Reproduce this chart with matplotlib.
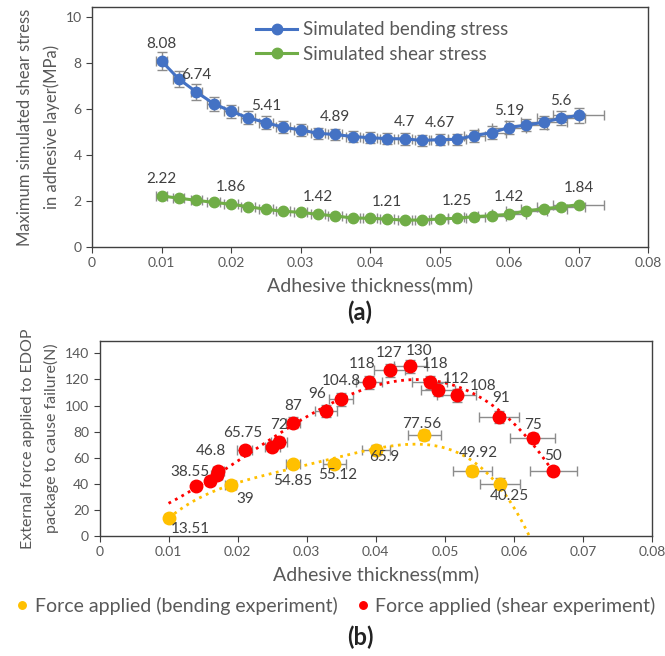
import matplotlib
matplotlib.use("Agg")
import matplotlib.pyplot as plt
import numpy as np

plt.rcParams['font.family'] = ['Lato', 'DejaVu Sans']

# ---------------- data (a) ----------------
thick_a = [0.01, 0.0125, 0.015, 0.0175, 0.02, 0.0225, 0.025, 0.0275, 0.03, 0.0325,
           0.035, 0.0375, 0.04, 0.0425, 0.045, 0.0475, 0.05, 0.0525, 0.055, 0.0575,
           0.06, 0.0625, 0.065, 0.0675, 0.07]
bend_stress = [8.08, 7.30, 6.74, 6.23, 5.90, 5.61, 5.41, 5.20, 5.09, 4.94,
               4.89, 4.80, 4.75, 4.71, 4.70, 4.63, 4.67, 4.68, 4.84, 4.97,
               5.19, 5.30, 5.42, 5.60, 5.72]
shear_stress = [2.22, 2.12, 2.03, 1.94, 1.86, 1.75, 1.64, 1.55, 1.51, 1.42,
                1.35, 1.26, 1.25, 1.21, 1.17, 1.17, 1.22, 1.25, 1.32, 1.36,
                1.42, 1.57, 1.66, 1.74, 1.84]
bend_yerr = [0.40, 0.36, 0.33, 0.31, 0.29, 0.28, 0.27, 0.26, 0.26, 0.25,
             0.25, 0.25, 0.25, 0.25, 0.25, 0.25, 0.25, 0.25, 0.26, 0.27,
             0.28, 0.28, 0.29, 0.30, 0.32]
shear_yerr = [0.05] * 25
xerr_a = [0.0008, 0.0008, 0.0008, 0.0009, 0.001, 0.001, 0.001, 0.001, 0.001, 0.001,
          0.001, 0.001, 0.001, 0.001, 0.001, 0.001, 0.0012, 0.0013, 0.0015, 0.002,
          0.0025, 0.003, 0.0033, 0.0035, 0.0037]
bend_label_idx = [0, 2, 6, 10, 14, 16, 20, 23]
shear_label_idx = [0, 4, 9, 13, 17, 20, 24]

# ---------------- data (b) ----------------
thick_bend_exp = [0.01, 0.019, 0.028, 0.034, 0.040, 0.047, 0.054, 0.058]
force_bend = [13.51, 39, 54.85, 55.12, 65.9, 77.56, 49.92, 40.25]
bend_exp_xerr = [0.0005, 0.0008, 0.001, 0.0017, 0.002, 0.0024, 0.0028, 0.0029]
bend_exp_yerr = [2, 2.5, 3, 3, 3.5, 4, 4, 4]
bend_exp_lab = ['13.51', '39', '54.85', '55.12', '65.9', '77.56', '49.92', '40.25']

thick_shear_exp = [0.014, 0.016, 0.017, 0.0172, 0.021, 0.025, 0.026, 0.028, 0.0328,
                   0.035, 0.039, 0.042, 0.045, 0.0478, 0.049, 0.0517, 0.0578, 0.0627, 0.0657]
force_shear = [38.55, 42, 46.8, 50, 65.75, 68.5, 72, 87, 96,
               104.8, 118, 127, 130, 118, 112, 108, 91, 75, 50]
shear_exp_xerr = [0.0005, 0.0006, 0.0008, 0.0008, 0.0011, 0.0011, 0.0011, 0.001, 0.0016,
                  0.0017, 0.0019, 0.0022, 0.0024, 0.0025, 0.0025, 0.0028, 0.0029, 0.0032, 0.0034]
shear_exp_yerr = [2.5, 3, 3, 3, 3.5, 3.5, 4, 4, 4.5, 5, 5, 5, 5, 5, 5, 5, 4.5, 4, 3]
shear_exp_lab = ['38.55', '', '46.8', '', '65.75', '', '72', '87', '96',
                 '104.8', '118', '127', '130', '118', '112', '108', '91', '75', '50']

# label offsets (pixels, dx right, dy up) -- style only
bend_lab_off = [(22, -11), (15, -14), (0, -17), (3, -11), (8, -7), (-2, 11), (6, 18), (9, -13)]
shear_lab_off = [(-6, 14), (0, 0), (-6, 24), (0, 0), (-2, 17), (0, 0), (0, 17), (0, 17), (-9, 17),
                 (0, 18), (-7, 18), (0, 17), (9, 15), (5, 18), (18, 11), (27, 9), (2, 19), (0, 13), (0, 15)]

BLUE = '#4472C4'
GREEN = '#70AD47'
RED = '#FF0000'
YEL = '#FFC000'
ERR = '#8c8c8c'
TXT = '#595959'
LAB = '#404040'

fig = plt.figure(figsize=(6.65, 6.56), dpi=100)
px2pt = 72 / 100

def style_axes(ax):
    for s in ax.spines.values():
        s.set_color('#404040')
        s.set_linewidth(1.0)
    ax.tick_params(axis='both', colors='#404040', labelcolor=TXT, labelsize=10,
                   direction='out', length=4, width=0.8)
    ax.set_xlim(0, 0.08)
    ax.set_xticks(np.arange(0, 0.081, 0.01))
    ax.set_xticklabels(['0', '0.01', '0.02', '0.03', '0.04', '0.05', '0.06', '0.07', '0.08'])

# ---------------- (a) ----------------
ax1 = fig.add_axes([92 / 665, 1 - 247 / 656, (648 - 92) / 665, (247 - 7) / 656])
style_axes(ax1)
ax1.set_ylim(0, 10.43)
ax1.set_yticks([0, 2, 4, 6, 8, 10])
ax1.errorbar(thick_a, bend_stress, yerr=bend_yerr, xerr=xerr_a, fmt='none',
             ecolor=ERR, elinewidth=1.0, capsize=3.5, capthick=1.0, zorder=2)
ax1.errorbar(thick_a, shear_stress, yerr=shear_yerr, xerr=xerr_a, fmt='none',
             ecolor=ERR, elinewidth=1.0, capsize=3.5, capthick=1.0, zorder=2)
ax1.plot(thick_a, bend_stress, '-o', color=BLUE, lw=2.2, ms=7.5, zorder=3,
         label='Simulated bending stress')
ax1.plot(thick_a, shear_stress, '-o', color=GREEN, lw=2.2, ms=7.5, zorder=3,
         label='Simulated shear stress')
for i in bend_label_idx:
    ax1.annotate(f'{bend_stress[i]:g}', (thick_a[i], bend_stress[i]), xytext=(0, 17 * px2pt),
                 textcoords='offset points', ha='center', va='center', fontsize=11, color=LAB)
for i in shear_label_idx:
    ax1.annotate(f'{shear_stress[i]:g}', (thick_a[i], shear_stress[i]), xytext=(0, 17 * px2pt),
                 textcoords='offset points', ha='center', va='center', fontsize=11, color=LAB)
ax1.legend(loc='upper left', bbox_to_anchor=(0.265, 1.01), frameon=False, fontsize=13.5,
           labelcolor=TXT, handlelength=2.2, handletextpad=0.3, labelspacing=0.4)
ax1.set_ylabel('Maximum simulated shear stress\nin adhesive layer(MPa)', fontsize=12,
               color=TXT, labelpad=4, linespacing=1.75)
ax1.set_xlabel('Adhesive thickness(mm)', fontsize=14, color=TXT, labelpad=5)
fig.text(360 / 665, 1 - 312 / 656, '(a)', ha='center', va='center', fontsize=17,
         fontweight='bold', color='#222222')

# ---------------- (b) ----------------
ax2 = fig.add_axes([99.5 / 665, 1 - 536 / 656, (652 - 99.5) / 665, (536 - 341) / 656])
style_axes(ax2)
ax2.set_ylim(0, 149.5)
ax2.set_yticks(np.arange(0, 141, 20))
ax2.errorbar(thick_bend_exp, force_bend, yerr=bend_exp_yerr, xerr=bend_exp_xerr, fmt='none',
             ecolor=ERR, elinewidth=1.0, capsize=3.5, capthick=1.0, zorder=2)
ax2.errorbar(thick_shear_exp, force_shear, yerr=shear_exp_yerr, xerr=shear_exp_xerr, fmt='none',
             ecolor=ERR, elinewidth=1.0, capsize=3.5, capthick=1.0, zorder=2)
# polynomial trendlines
cb = np.polyfit(thick_bend_exp, force_bend, 4)
xb = np.linspace(min(thick_bend_exp), 0.066, 200)
ax2.plot(xb, np.polyval(cb, xb), ':', color=YEL, lw=2.0, zorder=2.5)
cs = np.polyfit(thick_shear_exp, force_shear, 3)
xs = np.linspace(0.01, max(thick_shear_exp), 200)
ax2.plot(xs, np.polyval(cs, xs), ':', color=RED, lw=2.0, zorder=2.5)
ax2.plot(thick_bend_exp, force_bend, 'o', color=YEL, ms=9, ls='none', zorder=3,
         label='Force applied (bending experiment)')
ax2.plot(thick_shear_exp, force_shear, 'o', color=RED, ms=9, ls='none', zorder=3,
         label='Force applied (shear experiment)')
for x, y, t, (dx, dy) in zip(thick_bend_exp, force_bend, bend_exp_lab, bend_lab_off):
    ax2.annotate(t, (x, y), xytext=(dx * px2pt, dy * px2pt), textcoords='offset points',
                 ha='center', va='center', fontsize=11, color=LAB)
for x, y, t, (dx, dy) in zip(thick_shear_exp, force_shear, shear_exp_lab, shear_lab_off):
    if t:
        ax2.annotate(t, (x, y), xytext=(dx * px2pt, dy * px2pt), textcoords='offset points',
                     ha='center', va='center', fontsize=11, color=LAB)
ax2.set_ylabel('External force applied to EDOP\npackage to cause failure(N)', fontsize=11.5,
               color=TXT, labelpad=4, linespacing=1.75)
ax2.set_xlabel('Adhesive thickness(mm)', fontsize=14, color=TXT, labelpad=5)
h, l = ax2.get_legend_handles_labels()
fig.legend(h, l, loc='center', bbox_to_anchor=(336 / 665, 1 - 606 / 656), ncol=2,
           frameon=False, fontsize=14, labelcolor=TXT, handlelength=0.6,
           handletextpad=0.35, columnspacing=1.0, markerscale=0.6)
fig.text(360 / 665, 1 - 637 / 656, '(b)', ha='center', va='center', fontsize=17,
         fontweight='bold', color='#222222')

fig.savefig('out.png', dpi=100)
